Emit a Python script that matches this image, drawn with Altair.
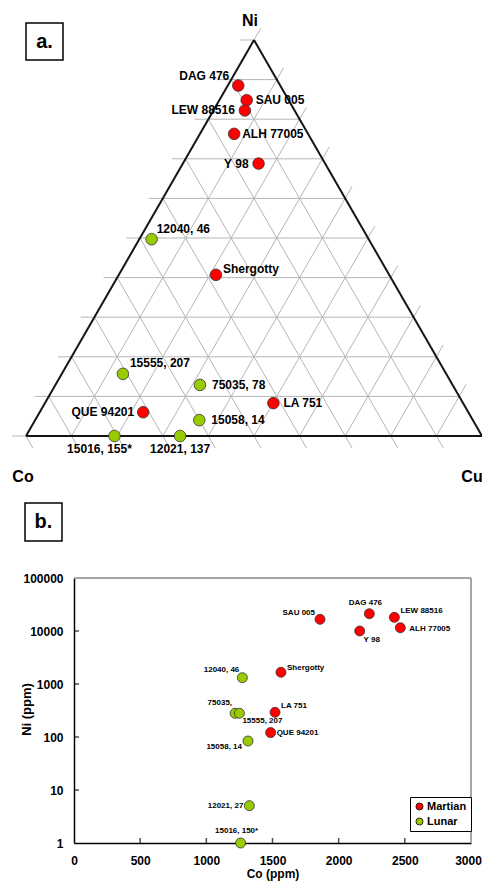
import altair as alt
import pandas as pd
import numpy as np

FONT = "Liberation Sans"

# ---------------- Panel a: ternary Ni-Co-Cu (percent) ----------------
tern_names = ["DAG 476", "SAU 005", "LEW 88516", "ALH 77005", "Y 98", "12040, 46",
              "Shergotty", "15555, 207", "75035, 78", "LA 751", "QUE 94201",
              "15058, 14", "15016, 155*", "12021, 137"]
tern_ni = [88.5, 84.8, 82.2, 76.3, 68.8, 49.7, 40.7, 15.7, 12.9, 8.3, 6.0, 4.0, 0.0, 0.0]
tern_co = [9.2, 9.2, 10.9, 16.2, 14.6, 47.6, 38.0, 70.9, 55.4, 41.6, 71.3, 60.0, 80.6, 66.2]
tern_cu = [2.3, 6.0, 6.9, 7.5, 16.6, 2.7, 21.3, 13.4, 31.7, 50.1, 22.7, 36.0, 19.4, 33.8]
tern_type = ["Martian", "Martian", "Martian", "Martian", "Martian", "Lunar", "Martian",
             "Lunar", "Lunar", "Martian", "Martian", "Lunar", "Lunar", "Lunar"]
grid_levels = [0, 10, 20, 30, 40, 50, 60, 70, 80, 90, 100]
vertex_names = ["Ni", "Co", "Cu"]

# ---------------- Panel b: Ni vs Co (ppm) ----------------
b_names = ["SAU 005", "DAG 476", "LEW 88516", "ALH 77005", "Y 98", "12040, 46",
           "Shergotty", "75035,", "15555, 207", "LA 751", "QUE 94201", "15058, 14",
           "12021, 27", "15016, 150*"]
b_co = [1859, 2232, 2421, 2466, 2159, 1272, 1564, 1217, 1250, 1519, 1486, 1315, 1325, 1259]
b_ni = [16600, 21200, 18100, 11500, 10000, 1315, 1660, 280, 280, 292, 121, 84, 5.06, 1]
b_type = ["Martian", "Martian", "Martian", "Martian", "Martian", "Lunar", "Martian",
          "Lunar", "Lunar", "Martian", "Martian", "Lunar", "Lunar", "Lunar"]
x_ticks = [0, 500, 1000, 1500, 2000, 2500, 3000]
y_ticks = [1, 10, 100, 1000, 10000, 100000]
types = ["Martian", "Lunar"]
colors = ["#ff0000", "#99cc00"]

# label placement (layout only): dx, dy, align
tern_label_pos = {
    "DAG 476": (-9, -10, "right"), "SAU 005": (9, 0, "left"),
    "LEW 88516": (-10, 0, "right"), "ALH 77005": (8, 0, "left"),
    "Y 98": (-10, 0, "right"), "12040, 46": (5, -10, "left"),
    "Shergotty": (7, -6, "left"), "15555, 207": (7, -11, "left"),
    "75035, 78": (12, 0, "left"), "LA 751": (10, 0, "left"),
    "QUE 94201": (-9, 0, "right"), "15058, 14": (12, 0, "left"),
    "15016, 155*": (-15, 13, "center"), "12021, 137": (0, 13, "center"),
}
b_label_pos = {
    "SAU 005": (-5, -6, "right"), "DAG 476": (-4, -11, "center"),
    "LEW 88516": (6, -6, "left"), "ALH 77005": (9, 1, "left"),
    "Y 98": (12, 9, "center"), "12040, 46": (-3, -8, "right"),
    "Shergotty": (6, -4, "left"), "75035,": (-3, -10, "right"),
    "15555, 207": (3, 8, "left"), "LA 751": (6, -6, "left"),
    "QUE 94201": (6, 0, "left"), "15058, 14": (-6, 6, "right"),
    "12021, 27": (-6, 0, "right"), "15016, 150*": (-4, -12, "center"),
}

# ---------------- ternary geometry ----------------
S = np.sqrt(3) / 2
T = 0.03  # tick extension (fraction of side)

tern_df = pd.DataFrame({"label": tern_names, "ni": tern_ni, "co": tern_co,
                        "cu": tern_cu, "type": tern_type})
tern_df["u"] = tern_df["cu"] / 100 + tern_df["ni"] / 200
tern_df["v"] = tern_df["ni"] / 100 * S

rows = []
for g in grid_levels:
    k = g / 100
    rows.append((k / 2 - T, k * S, 1 - k / 2, k * S))                      # const Ni
    rows.append((k, 0.0, (1 + k) / 2 + 0.5 * T, (1 - k) * S + S * T))     # const Cu
    rows.append(((1 - k) / 2, (1 - k) * S, 1 - k + 0.5 * T, -S * T))      # const Co
grid_df = pd.DataFrame(rows, columns=["u", "v", "u2", "v2"])

vert_u = [0.5, 0.0, 1.0]
vert_v = [S, 0.0, 0.0]
edge_df = pd.DataFrame({"u": [0.0, 0.0, 1.0], "v": [0.0, 0.0, 0.0],
                        "u2": [1.0, 0.5, 0.5], "v2": [0.0, S, S]})
vert_df = pd.DataFrame({"label": vertex_names, "u": vert_u, "v": vert_v})

TXS = alt.Scale(domain=[0, 1], range=[18, 474], nice=False, zero=False)
TYS = alt.Scale(domain=[0, float(S)], range=[428, 32], nice=False, zero=False)


def TX(f="u"):
    return alt.X(f"{f}:Q", scale=TXS, axis=None)


def TY(f="v"):
    return alt.Y(f"{f}:Q", scale=TYS, axis=None)


grid = alt.Chart(grid_df).mark_rule(color="#b5b5b5", strokeWidth=1).encode(
    x=TX(), y=TY(), x2="u2:Q", y2="v2:Q")
edges = alt.Chart(edge_df).mark_rule(color="#151515", strokeWidth=2).encode(
    x=TX(), y=TY(), x2="u2:Q", y2="v2:Q")

tern_layers = [grid, edges]
for t, c in zip(types, colors):
    tern_layers.append(
        alt.Chart(tern_df).transform_filter(alt.datum.type == t)
        .mark_circle(size=135, opacity=1, fill=c, stroke="#333333", strokeWidth=0.8)
        .encode(x=TX(), y=TY()))
for name, (dx, dy, al) in tern_label_pos.items():
    tern_layers.append(
        alt.Chart(tern_df).transform_filter(alt.datum.label == name)
        .mark_text(dx=dx, dy=dy, align=al, baseline="middle", font=FONT,
                   fontSize=12, fontWeight="bold", color="black")
        .encode(x=TX(), y=TY(), text="label:N"))
vert_pos = {"Ni": (-4, -19), "Co": (-3, 41), "Cu": (-10, 41)}
for name, (dx, dy) in vert_pos.items():
    tern_layers.append(
        alt.Chart(vert_df).transform_filter(alt.datum.label == name)
        .mark_text(dx=dx, dy=dy, align="center", baseline="middle", font=FONT,
                   fontSize=16, fontWeight="bold", color="black")
        .encode(x=TX(), y=TY(), text="label:N"))

tern = alt.layer(*tern_layers)

# ---------------- Panel b ----------------
b_df = pd.DataFrame({"label": b_names, "co": b_co, "ni": b_ni, "type": b_type})

WIDTH = 474
HEIGHT = 874
b_xaxis = alt.Axis(orient="bottom", offset=-(HEIGHT - 835), values=x_ticks, tickSize=0,
                   format="d",
                   labelPadding=12, labelFont=FONT, labelFontSize=12, labelFontWeight="bold",
                   labelColor="black", domainColor="black", domainWidth=1.5, grid=False,
                   labelOffset={"expr": "datum.value === 3000 ? -3 : 0"},
                   title="Co (ppm)", titleFont=FONT, titleFontSize=12, titleFontWeight="bold",
                   titleColor="black", titleY=25, titleBaseline="top", labelFlush=False)
b_yaxis = alt.Axis(orient="left", offset=-66, values=y_ticks, tickSize=0, format="d",
                   labelPadding=11, labelFont=FONT, labelFontSize=12, labelFontWeight="bold",
                   labelColor="black", domainColor="black", domainWidth=1.5, grid=False,
                   title="Ni (ppm)", titleFont=FONT, titleFontSize=13, titleFontWeight="bold",
                   titleColor="black", titleX=-41, titleY=701, labelFlush=False)
BXS = alt.Scale(domain=[0, 3000], range=[66, 463], nice=False, zero=False)
BYS = alt.Scale(type="log", domain=[1, 100000], range=[835, 570], nice=False)


def BX():
    return alt.X("co:Q", scale=BXS, axis=b_xaxis)


def BY():
    return alt.Y("ni:Q", scale=BYS, axis=b_yaxis)


frame_top = alt.Chart(pd.DataFrame({"co": [x_ticks[0]], "co2": [x_ticks[-1]], "ni": [y_ticks[-1]]})) \
    .mark_rule(color="#a6a6a6", strokeWidth=2).encode(x=BX(), x2="co2:Q", y=BY())
frame_right = alt.Chart(pd.DataFrame({"co": [x_ticks[-1]], "ni": [y_ticks[0]], "ni2": [y_ticks[-1]]})) \
    .mark_rule(color="#a6a6a6", strokeWidth=2).encode(x=BX(), y=BY(), y2="ni2:Q")
xt = alt.Chart(pd.DataFrame({"co": x_ticks[1:-1], "ni": [y_ticks[0]] * 5})) \
    .mark_tick(orient="vertical", size=5, thickness=1.5, yOffset=-2.5, color="black") \
    .encode(x=BX(), y=BY())
yt = alt.Chart(pd.DataFrame({"co": [x_ticks[0]] * 4, "ni": y_ticks[1:-1]})) \
    .mark_tick(orient="horizontal", size=5, thickness=1.5, xOffset=2.5, color="black") \
    .encode(x=BX(), y=BY())

b_points = alt.Chart(b_df).mark_circle(size=100, opacity=1, stroke="#333333", strokeWidth=0.8) \
    .encode(x=BX(), y=BY(),
            fill=alt.Fill("type:N", sort=types,
                          scale=alt.Scale(domain=types, range=colors),
                          legend=alt.Legend(orient="none", legendX=402, legendY=789, title=None,
                                            padding=4, strokeColor="black", fillColor="white",
                                            labelFont=FONT, labelFontSize=11, labelFontWeight="bold",
                                            labelColor="black", symbolType="circle", symbolSize=50,
                                            symbolStrokeColor="black", symbolStrokeWidth=0.8,
                                            rowPadding=3, labelOffset=2, cornerRadius=0)))

b_layers = [frame_top, frame_right, xt, yt, b_points]
for name, (dx, dy, al) in b_label_pos.items():
    b_layers.append(
        alt.Chart(b_df).transform_filter(alt.datum.label == name)
        .mark_text(dx=dx, dy=dy, align=al, baseline="middle", font=FONT,
                   fontSize=8, fontWeight="bold", color="black")
        .encode(x=BX(), y=BY(), text="label:N"))

panel_b = alt.layer(*b_layers)

# ---------------- panel tags ----------------
tag_df = pd.DataFrame({"tag": ["a.", "b."]})
boxes = alt.layer(
    alt.Chart(tag_df).transform_filter(alt.datum.tag == "a.")
    .mark_rect(fill="white", stroke="black", strokeWidth=1.5)
    .encode(x=alt.value(18), x2=alt.value(55), y=alt.value(15), y2=alt.value(52)),
    alt.Chart(tag_df).transform_filter(alt.datum.tag == "a.")
    .mark_text(font=FONT, fontSize=20, fontWeight="bold", color="black", align="center", baseline="middle")
    .encode(x=alt.value(36.5), y=alt.value(34), text="tag:N"),
    alt.Chart(tag_df).transform_filter(alt.datum.tag == "b.")
    .mark_rect(fill="white", stroke="black", strokeWidth=1.5)
    .encode(x=alt.value(17), x2=alt.value(54), y=alt.value(495), y2=alt.value(533)),
    alt.Chart(tag_df).transform_filter(alt.datum.tag == "b.")
    .mark_text(font=FONT, fontSize=20, fontWeight="bold", color="black", align="center", baseline="middle")
    .encode(x=alt.value(35.5), y=alt.value(514), text="tag:N"),
)

chart = alt.layer(tern, panel_b, boxes).resolve_scale(
    x="independent", y="independent"
).properties(
    width=WIDTH, height=HEIGHT, padding=0,
    autosize=alt.AutoSizeParams(type="none"),
    background="white",
).configure_view(strokeWidth=0)

chart.save("out.html", embed_options={"renderer": "svg", "actions": False})
